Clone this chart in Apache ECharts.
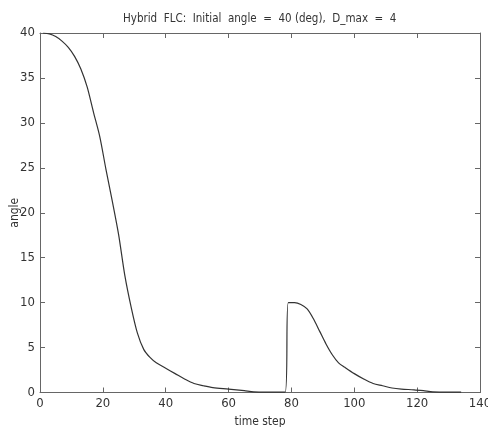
<!DOCTYPE html>
<html>
<head>
<meta charset="utf-8">
<style>
  html, body { margin: 0; padding: 0; background: #fff; }
  #chart { width: 488px; height: 427px; }
</style>
<script src="https://cdn.jsdelivr.net/npm/echarts@6/dist/echarts.min.js"></script>
</head>
<body>
<div id="chart"></div>
<script>
const titleText = 'Hybrid  FLC:  Initial  angle  =  40 (deg),  D_max  =  4';
const xName = 'time step';
const yName = 'angle';
const timeSteps = [1, 3, 5, 7, 9, 11, 13, 15, 17, 19, 21, 23, 25, 27, 29, 31, 33, 35, 37, 40, 43, 46, 49, 52, 55, 60, 65, 68, 72, 78,
  79, 81, 83, 85, 87, 89, 91, 93, 95, 97, 100, 103, 106, 109, 112, 115, 119, 122, 125, 130, 134];
const angles = [40, 39.9, 39.6, 39.1, 38.4, 37.4, 36.0, 34.0, 31.2, 28.5, 24.8, 21.3, 17.6, 13.0, 9.5, 6.6, 4.8, 3.9, 3.3, 2.7, 2.1, 1.5, 1.0, 0.75, 0.55, 0.38, 0.2, 0.08, 0.05, 0.05,
  10.0, 10.0, 9.8, 9.3, 8.2, 6.8, 5.4, 4.2, 3.3, 2.8, 2.1, 1.5, 1.0, 0.75, 0.5, 0.38, 0.3, 0.2, 0.08, 0.05, 0.05];
const xTicks = [0, 20, 40, 60, 80, 100, 120, 140];
const yTicks = [0, 5, 10, 15, 20, 25, 30, 35, 40];

const FONT = "'Liberation Sans Narrow', 'DejaVu Sans Condensed', 'Liberation Sans', sans-serif";
const AXIS_COLOR = '#666';
const TEXT_COLOR = '#333';

const chart = echarts.init(document.getElementById('chart'), null, { renderer: 'canvas' });

const baseX = {
  type: 'value', min: xTicks[0], max: xTicks[xTicks.length - 1], interval: 20,
  axisLine: { show: true, onZero: false, lineStyle: { color: AXIS_COLOR, width: 1 } },
  axisTick: { show: true, inside: true, length: 5, lineStyle: { color: AXIS_COLOR } },
  splitLine: { show: false }
};
const baseY = {
  type: 'value', min: yTicks[0], max: yTicks[yTicks.length - 1], interval: 5,
  axisLine: { show: true, onZero: false, lineStyle: { color: AXIS_COLOR, width: 1 } },
  axisTick: { show: true, inside: true, length: 5, lineStyle: { color: AXIS_COLOR } },
  splitLine: { show: false }
};

chart.setOption({
  animation: false,
  backgroundColor: '#fff',
  title: {
    text: titleText,
    left: 118, top: 8,
    textStyle: { fontFamily: FONT, fontSize: 11.5, fontWeight: 'normal', color: TEXT_COLOR }
  },
  grid: { left: 40, right: 8, top: 33, bottom: 34.5, containLabel: false, outerBoundsMode: 'none' },
  xAxis: [
    Object.assign({}, baseX, {
      position: 'bottom',
      name: xName, nameLocation: 'middle', nameGap: 23, nameMoveOverlap: false,
      nameTextStyle: { fontFamily: FONT, fontSize: 12, color: TEXT_COLOR },
      axisLabel: { show: true, margin: 5, fontFamily: FONT, fontSize: 13, color: TEXT_COLOR }
    }),
    Object.assign({}, baseX, { position: 'top', axisLabel: { show: false } })
  ],
  yAxis: [
    Object.assign({}, baseY, {
      position: 'left',
      name: yName, nameLocation: 'middle', nameGap: 19, nameMoveOverlap: false,
      nameTextStyle: { fontFamily: FONT, fontSize: 12, color: TEXT_COLOR },
      axisLabel: { show: true, margin: 5, fontFamily: FONT, fontSize: 13, color: TEXT_COLOR }
    }),
    Object.assign({}, baseY, { position: 'right', axisLabel: { show: false } })
  ],
  series: [{
    type: 'line',
    xAxisIndex: 0, yAxisIndex: 0,
    data: timeSteps.map((t, i) => [t, angles[i]]),
    showSymbol: false,
    smooth: 0.3,
    lineStyle: { color: '#333', width: 1.2 }
  }]
});
</script>
</body>
</html>
